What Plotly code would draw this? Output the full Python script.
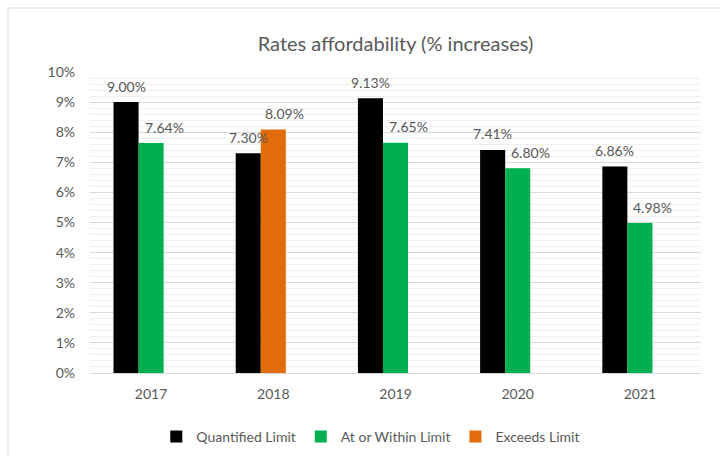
import plotly.graph_objects as go

years = ["2017", "2018", "2019", "2020", "2021"]
quantified = [9.00, 7.30, 9.13, 7.41, 6.86]
within = [7.64, None, 7.65, 6.80, 4.98]
exceeds = [None, 8.09, None, None, None]

W, H = 720, 456
ml, mr, mt, mb = 90, 19, 72, 83
FONT = "Lato, Open Sans, sans-serif"
TXT = "#595959"
BW = 0.205  # bar width as fraction of category

def frac(vals):
    return [v / 100 if v is not None else None for v in vals]

fig = go.Figure()
fig.add_bar(x=years, y=frac(quantified), name="Quantified Limit", marker_color="#000000",
            width=BW, offset=-1.5 * BW)
fig.add_bar(x=years, y=frac(within), name="At or Within Limit", marker_color="#00B050",
            width=BW, offset=-0.5 * BW)
fig.add_bar(x=years, y=frac(exceeds), name="Exceeds Limit", marker_color="#E36C0A",
            width=BW, offset=-0.5 * BW)
fig.update_traces(marker_line_width=0)

pw = W - ml - mr
ph = H - mt - mb
px_per_cat = pw / len(years)

def add_labels(vals, center_shift_px):
    for i, v in enumerate(vals):
        if v is None:
            continue
        fig.add_annotation(x=i, y=v / 100, text=f"{v:.2f}%", showarrow=False,
                           xshift=center_shift_px, yshift=16, yanchor="middle",
                           font=dict(size=14, color=TXT, family=FONT))

add_labels(quantified, -1.0 * BW * px_per_cat)
add_labels(within, 13)
add_labels(exceeds, 11)

fig.add_shape(type="rect", xref="paper", yref="paper",
              x0=(8 - ml) / pw, x1=(740 - ml) / pw,
              y0=1 - (480 - mt) / ph, y1=1 - (8 - mt) / ph,
              line=dict(color="#D9D9D9", width=1), fillcolor="rgba(0,0,0,0)", layer="below")

fig.update_layout(
    width=W, height=H,
    margin=dict(l=ml, r=mr, t=mt, b=mb),
    paper_bgcolor="white", plot_bgcolor="white",
    barmode="overlay",
    font=dict(family=FONT, color=TXT, size=14),
    title=dict(text="Rates affordability (% increases)", x=0.5, xref="paper", xanchor="center",
               y=1 - 44 / H, yanchor="middle", font=dict(size=20, color=TXT, family=FONT)),
    xaxis=dict(type="category", range=[-0.5, len(years) - 0.5], showgrid=False, showline=True,
               linecolor="#D9D9D9", ticks="", ticklabelstandoff=8,
               tickfont=dict(size=14, color=TXT)),
    yaxis=dict(range=[0, 0.1], dtick=0.01, tickformat=".0%", showgrid=True,
               gridcolor="#D9D9D9", zeroline=False, ticks="", ticklabelstandoff=14,
               minor=dict(dtick=0.002, showgrid=True, gridcolor="#EFEFEF"),
               tickfont=dict(size=14, color=TXT)),
    legend=dict(orientation="h", x=0.515, xanchor="center", xref="container",
                y=1 - 437 / H, yref="container", yanchor="middle",
                font=dict(size=14, color=TXT), itemwidth=30, traceorder="normal"),
)

fig.write_html("out.html")
